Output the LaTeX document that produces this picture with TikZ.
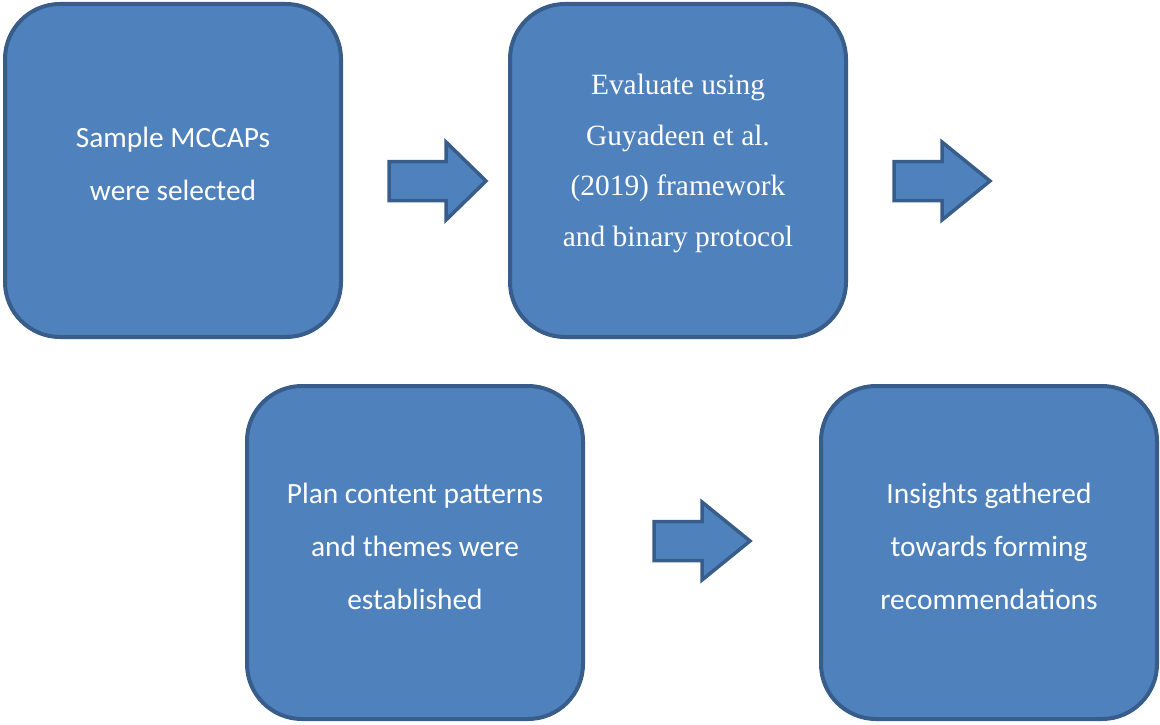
\documentclass[tikz,border=0pt]{standalone}
\usepackage{fontspec}
\setmainfont{Liberation Serif}
\newfontfamily\calibri{Carlito}
\usetikzlibrary{positioning}
\definecolor{stepfill}{HTML}{4F81BD}
\definecolor{stepline}{HTML}{385D8A}
\tikzset{
  stepbox/.style={draw=stepline,fill=stepfill,line width=4pt,
                  rounded corners=55pt,minimum width=336pt,
                  minimum height=333pt},
  boxtxt/.style={text=white,align=center,inner sep=0pt,
                 font=\calibri\fontsize{29.4}{53}\selectfont},
  boxtxtserif/.style={boxtxt,font=\fontsize{29.4}{50.5}\selectfont},
  fat/.style={draw=stepline,fill=stepfill,line width=3.5pt,
              line join=miter},
}
% fat block arrow: tail centre, shaft length, head length
\newcommand{\fatarrow}[3]{%
  \draw[fat] (#1) ++(0,-19.5) -- ++(#2,0) -- ++(0,-19.5) -- ++(#3,39)
    -- ++(-#3,39) -- ++(0,-19.5) -- ++(-#2,0) -- cycle;}

\begin{document}
\begin{tikzpicture}[x=1pt, y=-1pt]
  \useasboundingbox (0,0) rectangle (1160,725);
  % The four steps, read left to right, then the lower row.
  \node[stepbox] (sel) at (173,170.5) {};
  \node[stepbox] (eval) at (678,170.5) {};
  \node[stepbox] (plan) at (415,552.5) {};
  \node[stepbox] (ins) at (989,552.5) {};
  \node[boxtxt] (selt) at ([yshift=7pt]sel.center)
       {Sample MCCAPs\\were selected};
  \node[boxtxtserif] (evalt) at ([yshift=7pt]eval.center)
       {Evaluate using\\Guyadeen et al.\\(2019) framework\\and binary protocol};
  \node[boxtxt] (plant) at ([yshift=6pt]plan.center)
       {Plan content patterns\\and themes were\\established};
  \node[boxtxt] (inst) at ([yshift=6pt]ins.center)
       {Insights gathered\\towards forming\\recommendations};
  % Block arrows between the steps.
  \coordinate (a1) at (389,181);
  \coordinate (a2) at (894,181);
  \coordinate (a3) at (654,541);
  \fatarrow{a1}{57}{40}
  \fatarrow{a2}{48}{48}
  \fatarrow{a3}{48}{48}
\end{tikzpicture}
\end{document}
